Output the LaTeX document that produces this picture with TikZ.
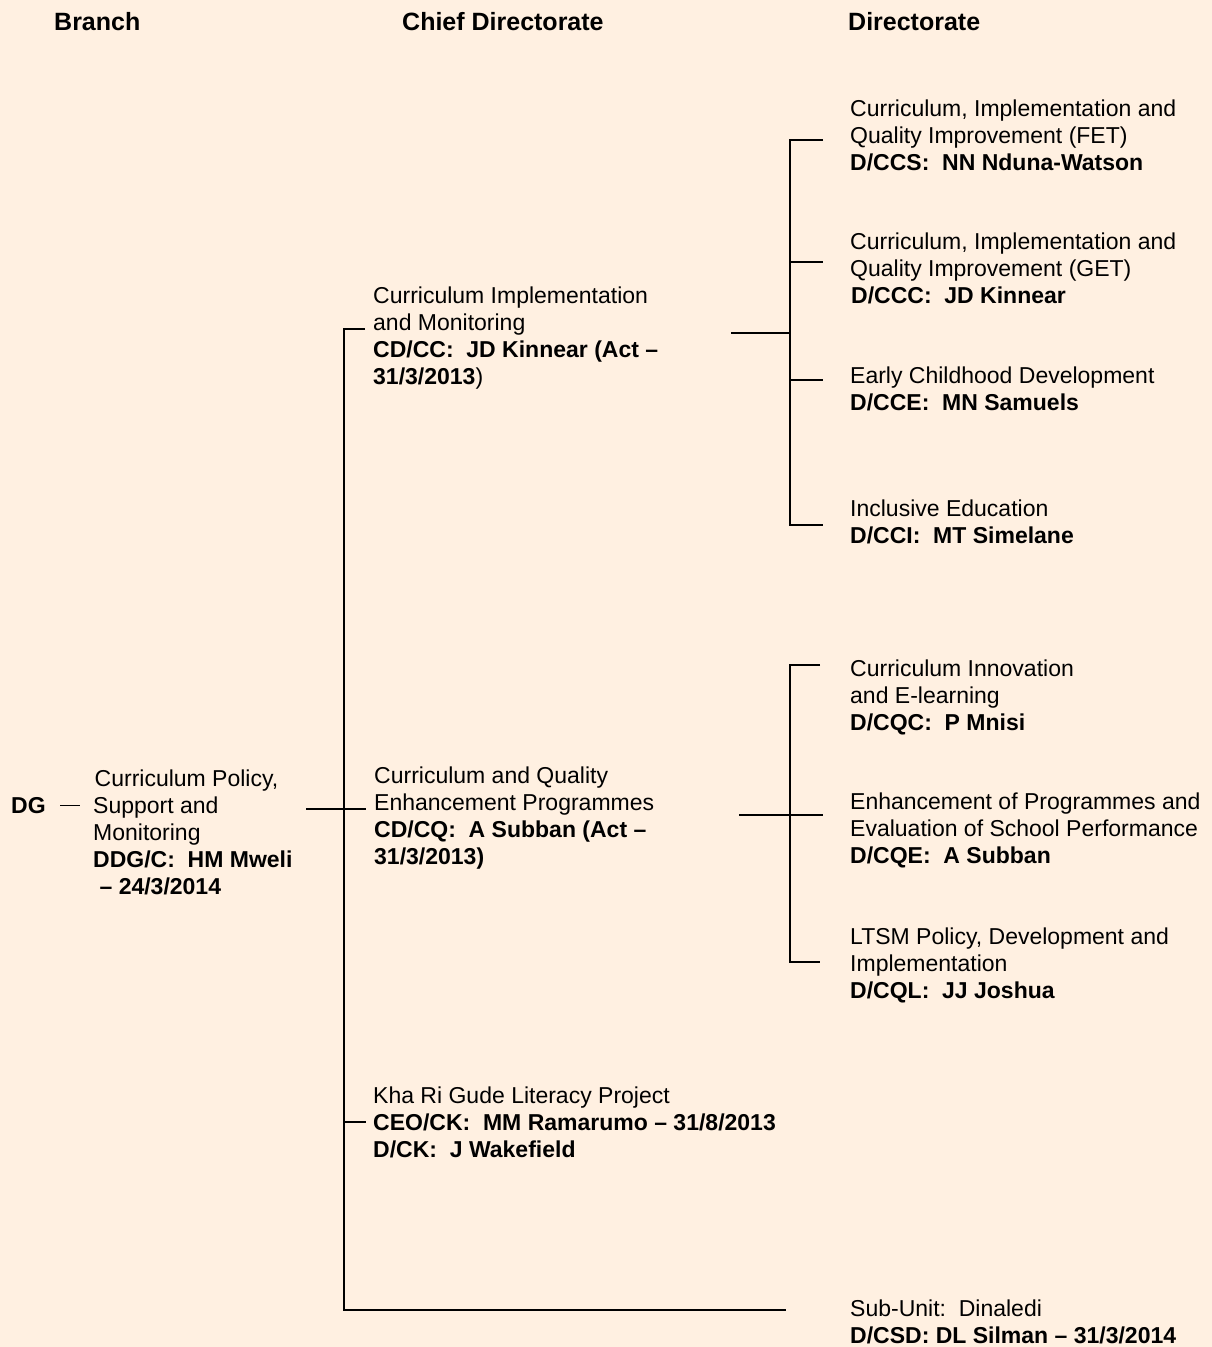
\documentclass[tikz,border=0pt]{standalone}
\usepackage{fontspec}
\setmainfont{Liberation Sans}
\definecolor{bg}{RGB}{255,240,225}
\begin{document}
\begin{tikzpicture}[x=1pt,y=-1pt,
  txt/.style={anchor=north west, inner sep=0pt, align=left, font=\fontsize{23}{27}\selectfont},
  hdr/.style={anchor=base west, inner sep=0pt, font=\fontsize{25}{30}\selectfont\bfseries},
  conn/.style={line width=1.5pt, black},
  thinconn/.style={line width=0.9pt, black}]
\fill[bg] (0,0) rectangle (1212,1347);
\useasboundingbox (0,0) rectangle (1212,1347);

% headers
\node[hdr] (hbranch) at (54,30) {Branch};
\node[hdr] (hchief) at (402,30) {Chief Directorate};
\node[hdr] (hdir) at (848,30) {Directorate};

% DG and branch
\node[anchor=base west, inner sep=0pt, font=\fontsize{23}{27}\selectfont\bfseries] (dg) at (11,813) {DG};
\node[txt] (br) at (93,767) {\strut\hspace*{1.5pt}Curriculum Policy,\\Support and\\Monitoring\\\textbf{DDG/C:\ \ HM Mweli}\\\hspace*{6.4pt}\textbf{– 24/3/2014}};

% chief directorates
\node[txt] (ci) at (373,284) {\strut Curriculum Implementation\\and Monitoring\\\textbf{CD/CC:\ \ JD Kinnear (Act –}\\\textbf{31/3/2013})};
\node[txt] (cq) at (374,764) {\strut Curriculum and Quality\\Enhancement Programmes\\\textbf{CD/CQ:\ \ A Subban (Act –}\\\textbf{31/3/2013)}};
\node[txt] (ck) at (373,1084) {\strut Kha Ri Gude Literacy Project\\\textbf{CEO/CK:\ \ MM Ramarumo – 31/8/2013}\\\textbf{D/CK:\ \ J Wakefield}};

% directorates
\node[txt] (d1) at (850,97) {\strut Curriculum, Implementation and\\Quality Improvement (FET)\\\textbf{D/CCS:\ \ NN Nduna-Watson}};
\node[txt] (d2) at (850,230) {\strut Curriculum, Implementation and\\Quality Improvement (GET)\\\hspace*{1pt}\textbf{D/CCC:\ \ JD Kinnear}};
\node[txt] (d3) at (850,364) {\strut Early Childhood Development\\\textbf{D/CCE:\ \ MN Samuels}};
\node[txt] (d4) at (850,497) {\strut Inclusive Education\\\textbf{D/CCI:\ \ MT Simelane}};
\node[txt] (d5) at (850,657) {\strut Curriculum Innovation\\and E-learning\\\textbf{D/CQC:\ \ P Mnisi}};
\node[txt] (d6) at (850,790) {\strut Enhancement of Programmes and\\Evaluation of School Performance\\\textbf{D/CQE:\ \ A Subban}};
\node[txt] (d7) at (850,925) {\strut LTSM Policy, Development and\\Implementation\\\textbf{D/CQL:\ \ JJ Joshua}};
\node[txt] (d8) at (850,1297) {\strut Sub-Unit:\ \ Dinaledi\\\textbf{D/CSD: DL Silman – 31/3/2014}};

% junction coordinates
\coordinate (dgR) at (60,805);
\coordinate (brL) at (80,805);
\coordinate (brR) at (306,809);
\coordinate (sTop) at (344,329);
\coordinate (sMid) at (344,809);
\coordinate (sK) at (344,1122);
\coordinate (sBot) at (344,1310);
\coordinate (ciL) at (365,329);
\coordinate (cqL) at (366,809);
\coordinate (ckL) at (366,1122);
\coordinate (d8L) at (786,1310);
\coordinate (ciR) at (731,333);
\coordinate (g1J) at (790,333);
\coordinate (g1T) at (790,140);
\coordinate (g1B) at (790,525);
\coordinate (d1L) at (823,140);
\coordinate (d2J) at (790,262);
\coordinate (d2L) at (823,262);
\coordinate (d3J) at (790,380);
\coordinate (d3L) at (823,380);
\coordinate (d4L) at (823,525);
\coordinate (cqR) at (739,815);
\coordinate (g2T) at (790,665);
\coordinate (g2B) at (790,962);
\coordinate (d5L) at (820,665);
\coordinate (d6L) at (823,815);
\coordinate (d7L) at (820,962);

% connectors
\draw[thinconn] (dgR) -- (brL);
\draw[conn] (brR) -- (cqL);
\draw[conn] (ciL) -- (sTop) -- (sBot) -- (d8L);
\draw[conn] (sK) -- (ckL);
\draw[conn] (ciR) -- (g1J);
\draw[conn] (d1L) -- (g1T) -- (g1B) -- (d4L);
\draw[conn] (d2J) -- (d2L);
\draw[conn] (d3J) -- (d3L);
\draw[conn] (cqR) -- (d6L);
\draw[conn] (d5L) -- (g2T) -- (g2B) -- (d7L);
\end{tikzpicture}
\end{document}
